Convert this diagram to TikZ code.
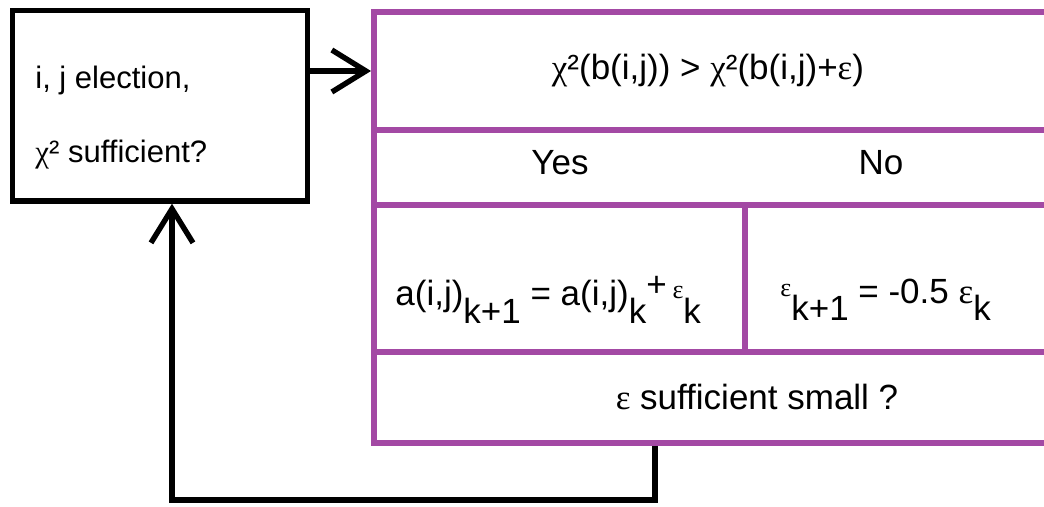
\documentclass[tikz,border=0pt]{standalone}
\usepackage{fontspec}
\setmainfont{Liberation Sans}
\newfontfamily\grk{Liberation Serif}
\usetikzlibrary{positioning,arrows.meta}
\definecolor{cellpurple}{RGB}{163,73,164}
\newcommand\chisq{{\grk χ}²}
\newcommand\eps{{\grk ε}}
\newcommand\lo[1]{\raisebox{-0.5em}{#1}}
\newcommand\hi[1]{\raisebox{0.2em}{\fontsize{13}{13}\selectfont #1}}

\begin{document}
\begin{tikzpicture}[x=0.5pt,y=-0.5pt,
  selbox/.style={draw=black,line width=2.7pt,minimum width=147.5pt,minimum height=95.25pt,inner sep=0pt},
  cell/.style={draw=cellpurple,line width=3pt,inner sep=0pt},
  bigtxt/.style={font=\fontsize{17.5}{21}\selectfont,inner sep=0pt},
  seltxt/.style={font=\fontsize{15.5}{19}\selectfont,inner sep=0pt,anchor=west},
  flow/.style={line width=2.7pt,-{Straight Barb[length=17pt,width=21pt]}}]
  \useasboundingbox (0,0) rectangle (1044,507);
  \clip (0,0) rectangle (1044,507);

  % selection box on the left
  \node[selbox] (choose) at (160,105.75) {};
  \node[seltxt] (sel1) at (35,80) {i, j election,};
  \node[seltxt] (sel2) at (35,155) {\chisq\ sufficient?};

  % purple table, runs out past the right edge
  \node[cell,minimum width=339pt,minimum height=59pt] (cond) at (713,71) {};
  \node[cell,minimum width=339pt,minimum height=37.5pt] (answer) at (713,167.5) {};
  \node[cell,minimum width=185.5pt,minimum height=73.5pt] (upd) at (559.5,278.5) {};
  \node[cell,minimum width=153.5pt,minimum height=73.5pt] (half) at (898.5,278.5) {};
  \node[cell,minimum width=339pt,minimum height=45.5pt] (small) at (713,397.5) {};

  \node[bigtxt] (condtxt) at (708,71) {\chisq(b(i,j)) > \chisq(b(i,j)+\eps)};
  \node[bigtxt] (yes) at (560,163) {Yes};
  \node[bigtxt] (no) at (881,163) {No};
  \node[bigtxt,anchor=west] (updtxt) at (395,300) {a(i,j)\lo{k+1} = a(i,j)\lo{k}\raisebox{0.25em}{+}\,\hi{\eps}\lo{k}};
  \node[bigtxt,anchor=west] (halftxt) at (780,300) {\hi{\eps}\lo{k+1} = -0.5 \eps\lo{k}};
  \node[bigtxt] (smalltxt) at (757,397) {\eps\ sufficient small ?};

  % connectors
  \draw[flow] (choose.east |- cond.west) -- (cond.west);
  \coordinate (turnR) at (655,500);
  \coordinate (turnL) at (172,500);
  \draw[flow] (turnR |- small.south) -- (turnR) -- (turnL) -- (turnL |- choose.south);
\end{tikzpicture}
\end{document}
